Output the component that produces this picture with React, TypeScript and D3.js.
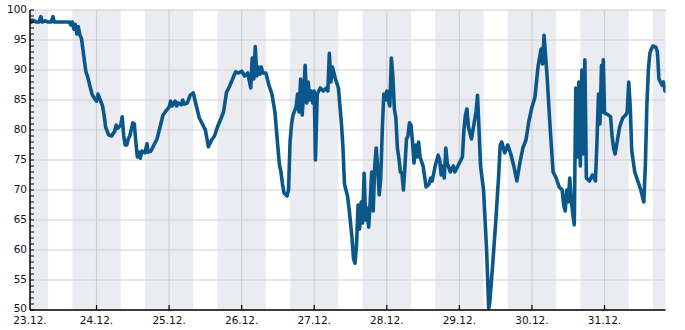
import React from "react";
import * as d3 from "d3";

const START = new Date(2019, 11, 23, 2, 0);
const END = new Date(2019, 11, 31, 20, 10);

const dayLabels = ["23.12.", "24.12.", "25.12.", "26.12.", "27.12.", "28.12.", "29.12.", "30.12.", "31.12."];
const dayTicks = [
  new Date(2019, 11, 23, 2), new Date(2019, 11, 24), new Date(2019, 11, 25), new Date(2019, 11, 26),
  new Date(2019, 11, 27), new Date(2019, 11, 28), new Date(2019, 11, 29), new Date(2019, 11, 30), new Date(2019, 11, 31),
];
const yTicks = [50, 55, 60, 65, 70, 75, 80, 85, 90, 95, 100];
const yMinor = d3.range(50, 101, 1);

// [hours since start, value]
const readings: [number, number][] = [
  [0, 98.5], [0.5, 98], [1, 98.3], [2, 98], [3, 98], [3.6, 98.9], [4, 98], [5, 98.2], [6, 98], [7, 98], [7.6, 98.9], [8, 98],
  [9, 98], [10, 98], [11, 98], [12, 98], [13, 98], [13.5, 97.5], [14, 98], [14.5, 96.8], [15, 97.6], [15.5, 96], [16, 97.2],
  [16.5, 95.8], [17, 95.3], [17.5, 93.5], [18, 91.5], [18.5, 89.7], [19, 89], [20, 87], [20.5, 86], [21, 85.5], [22, 84.8],
  [22.5, 86], [23, 85.3], [24, 84], [24.5, 82.5], [25, 80.5], [26, 79.2], [27, 79], [28, 79.8], [28.5, 80.8], [29, 80.3],
  [30, 80.8], [30.5, 82.2], [31, 79], [31.5, 77.5], [32, 77.5], [32.5, 78.5], [33, 79], [34, 81.2], [34.5, 81], [35, 78],
  [35.5, 75.5], [36, 76.3], [36.5, 75.3], [37, 76.5], [38, 76.2], [38.7, 77.7], [39, 76.3], [40, 76.5], [41, 77.5], [42, 78.5],
  [43, 80.5], [44, 82.5], [45, 83.2], [46, 83.8], [46.5, 84.8], [47, 84], [48, 84.8], [48.5, 84], [49, 84.5], [50, 84.2],
  [50.5, 85], [51, 84.3], [52, 84.5], [53, 85.8], [54, 86.2], [55, 84], [56, 82], [57, 81], [58, 80], [59, 77.2], [60, 78.3],
  [61, 79], [62, 80.5], [63, 81.7], [64, 83], [65, 86.3], [66, 87.3], [67, 88.5], [68, 89.7], [69, 89.5], [70, 89.8], [71, 89],
  [72, 89.5], [73, 87], [73.5, 92], [74, 88.5], [74.5, 93.9], [75, 89], [75.5, 90.5], [76, 89.3], [76.5, 90.5], [77, 89.5],
  [78, 89.5], [79, 87.5], [80, 86], [81, 83], [81.5, 80], [82, 77], [82.5, 74.2], [83, 73], [83.5, 71], [84, 69.5], [85, 69],
  [85.5, 70], [86, 78], [86.5, 81], [87, 82.5], [88, 83.8], [88.5, 86], [89, 83], [89.5, 88.5], [90, 82.5], [90.5, 86],
  [91, 90.8], [91.5, 84.5], [92, 88], [92.5, 85], [93, 86.5], [93.5, 84.5], [94, 86.5], [94.4, 75], [95, 86], [96, 87],
  [97, 86.5], [98, 87], [98.5, 86.5], [99, 92.8], [99.5, 88], [100, 90.5], [101, 88.5], [102, 87], [102.5, 84], [103, 81],
  [103.5, 77], [104, 71], [104.5, 70], [105, 69], [105.5, 67], [106, 64.5], [106.5, 62], [107, 58.5], [107.5, 57.8], [108, 61],
  [108.5, 67.5], [109, 63.5], [109.5, 68], [110, 64.5], [110.5, 72.8], [111, 65], [111.5, 67], [112, 63.8], [112.5, 68],
  [113, 73], [113.5, 66.5], [114, 74], [114.5, 77], [115, 73.5], [115.5, 69.2], [116, 72], [116.5, 80], [117, 86], [117.5, 85],
  [118, 86.5], [118.5, 85], [119, 84], [119.5, 92], [120, 89], [120.5, 83.5], [121, 82], [121.5, 77], [122, 75.3], [122.5, 73],
  [123, 72.8], [123.5, 70], [124, 74], [124.5, 78.5], [125, 79], [125.5, 81.2], [126, 80.8], [126.5, 78], [127, 74.5],
  [127.5, 77.5], [128, 75.5], [128.5, 78], [129, 75.5], [130, 74], [131, 70.5], [132, 71], [132.5, 72], [133, 71.5], [134, 74],
  [135, 75.8], [135.5, 75], [136, 72.5], [136.5, 74], [137, 72], [137.5, 77], [138, 74.5], [139, 73], [140, 74], [140.5, 73],
  [141, 73.5], [142, 74.5], [143, 75.5], [143.5, 80], [144, 82.5], [144.5, 83.5], [145, 80.5], [146, 78.5], [147, 81.5],
  [147.5, 83], [148, 85.8], [148.5, 80], [149, 74], [150, 70], [151, 60], [151.7, 50.3], [152, 51], [153, 57.5], [154, 64.5],
  [155, 72.5], [155.5, 77.5], [156, 78], [157, 76.2], [158, 77.5], [159, 76], [160, 74], [161, 71.5], [162, 74.5], [163, 77],
  [164, 78.3], [165, 81.5], [166, 83.8], [167, 85.5], [168, 90.5], [169, 93.5], [169.5, 91], [170, 95.8], [171, 89], [172, 80.5],
  [173, 73], [174, 72], [175, 70.5], [176, 70], [176.5, 67.5], [177, 66.5], [177.5, 70], [178, 68], [178.5, 72], [179, 68.5],
  [179.5, 66], [180, 64.2], [180.5, 87], [181, 75.5], [181.5, 88], [182, 74], [182.5, 90], [183, 76], [183.5, 91.7], [184, 72],
  [185, 71.5], [186, 72.5], [187, 71.5], [187.5, 78], [188, 86], [188.5, 81], [189, 90.8], [189.3, 83], [189.6, 91.7],
  [190, 82.8], [191, 82.6], [192, 82.2], [192.5, 79], [193, 77], [193.5, 76], [194, 77.5], [195, 80.5], [196, 82], [197, 82.5],
  [197.5, 83], [198, 88], [198.5, 84], [199, 76.5], [200, 73], [201, 71.5], [202, 70], [202.5, 69], [203, 68], [203.5, 74],
  [204, 84], [204.5, 90], [205, 92.8], [205.5, 93.5], [206, 94], [207, 93.8], [207.5, 93], [208, 88.5], [209, 87.5],
  [209.5, 88], [210, 86.5], [210.4, 86.5],
];

const W = 685, H = 330;
const L = 30, R = 665.5, T = 10, B = 310;

export default function App() {
  const x = d3.scaleTime().domain([START, END]).range([L, R]);
  const y = d3.scaleLinear().domain([50, 100]).range([B, T]);
  const pts = readings.map(([h, v]) => [new Date(START.getTime() + h * 3600000), v] as [Date, number]);
  const line = d3.line<[Date, number]>().x((d) => x(d[0])).y((d) => y(d[1]));

  const bands: [Date, Date][] = [];
  for (let d = 22; d <= 31; d++) {
    const a = new Date(2019, 11, d, 16);
    const b = new Date(2019, 11, d + 1, 8);
    const s = a < START ? START : a;
    const e = b > END ? END : b;
    if (e > s) bands.push([s, e]);
  }
  const font = "'DejaVu Sans', Verdana, sans-serif";

  return (
    <svg width={W} height={H} style={{ position: "absolute", left: 0, top: 0 }} fontFamily={font}>
      <defs>
        <clipPath id="plot">
          <rect x={L} y={T - 5} width={R - L} height={B - T + 5} />
        </clipPath>
      </defs>
      <rect x={0} y={0} width={W} height={H} fill="#fff" />
      {bands.map(([s, e], i) => (
        <rect key={i} x={x(s)} y={T} width={x(e) - x(s)} height={B - T} fill="#ebecf2" />
      ))}
      {yTicks.map((t) => (
        <line key={"gy" + t} x1={L} x2={R} y1={y(t)} y2={y(t)} stroke="#cfcfd2" strokeWidth={1.2} />
      ))}
      {dayTicks.slice(1).map((t, i) => (
        <line key={"gx" + i} x1={x(t)} x2={x(t)} y1={T} y2={B} stroke="#cfcfd2" strokeWidth={1.2} />
      ))}
      <path d={line(pts) || ""} fill="none" stroke="#0b5789" strokeWidth={3.6} strokeLinejoin="round" clipPath="url(#plot)" />
      {yMinor.map((t) => (
        <line key={"mt" + t} x1={L} x2={L + 4} y1={y(t)} y2={y(t)} stroke="#000" strokeWidth={1} />
      ))}
      <line x1={L} x2={L} y1={T} y2={B} stroke="#000" strokeWidth={1.5} />
      <line x1={L} x2={R} y1={B} y2={B} stroke="#000" strokeWidth={1.5} />
      {dayTicks.slice(1).map((t, i) => (
        <line key={"xt" + i} x1={x(t)} x2={x(t)} y1={B - 5} y2={B} stroke="#000" strokeWidth={1.2} />
      ))}
      {yTicks.map((t) => (
        <text key={"yl" + t} x={L - 3} y={y(t) - (t === 50 ? 1.5 : 0.8)} dy="0.35em" textAnchor="end" fontSize={10.5} fill="#111">
          {t}
        </text>
      ))}
      {dayTicks.map((t, i) => (
        <text key={"xl" + i} x={x(t)} y={B + 11.5} dy="0.2em" textAnchor="middle" fontSize={10.5} fill="#111">
          {dayLabels[i]}
        </text>
      ))}
    </svg>
  );
}
